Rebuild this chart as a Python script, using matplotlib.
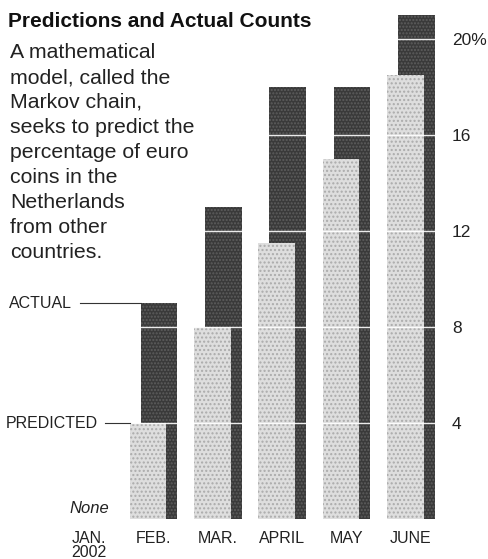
import matplotlib
matplotlib.use("Agg")
import matplotlib.pyplot as plt

plt.rcParams['font.family'] = ['Liberation Sans', 'DejaVu Sans']

months = ["JAN.\n2002", "FEB.", "MAR.", "APRIL", "MAY", "JUNE"]
actual = [None, 9.0, 13.0, 18.0, 18.0, 21.0]
predicted = [None, 4.0, 8.0, 11.5, 15.0, 18.5]
yticks = [4, 8, 12, 16, 20]
ytick_labels = ["4", "8", "12", "16", "20%"]
title = "Predictions and Actual Counts"
body = ["A mathematical", "model, called the", "Markov chain,",
        "seeks to predict the", "percentage of euro", "coins in the",
        "Netherlands", "from other", "countries."]

W, H = 488, 559
fig = plt.figure(figsize=(W / 100, H / 100), dpi=100)
ax = fig.add_axes([57 / W, (H - 519) / H, 386 / W, 509 / H])

xs = list(range(len(months)))
off, bw = 0.085, 0.57
dark_x = [x + off for x, v in zip(xs, actual) if v is not None]
dark_v = [v for v in actual if v is not None]
light_x = [x - off for x, v in zip(xs, predicted) if v is not None]
light_v = [v for v in predicted if v is not None]

ax.bar(dark_x, dark_v, width=bw, color='#3a3a3a', edgecolor='#5e5e5e',
       hatch='.....', linewidth=0, zorder=1)
ax.bar(light_x, light_v, width=bw, color='#dedede', edgecolor='#ababab',
       hatch='....', linewidth=0, zorder=2)

ax.set_xlim(-0.5, 5.5)
ax.set_ylim(0, 509 / 24)
ax.set_axisbelow(False)
ax.yaxis.grid(True, color='white', linewidth=1.0, alpha=0.9, zorder=3)
ax.xaxis.grid(False)
for s in ax.spines.values():
    s.set_visible(False)

ax.yaxis.tick_right()
ax.set_yticks(yticks)
ax.set_yticklabels(ytick_labels)
ax.tick_params(axis='y', length=0, pad=6.5, labelsize=12.5, colors='#222222')
ax.set_xticks(xs)
ax.set_xticklabels(months, linespacing=0.95)
ax.tick_params(axis='x', length=0, pad=8.5, labelsize=11.5, colors='#222222')

ax.text(0, 0.45, "None", ha='center', va='center', style='italic',
        fontsize=12, color='#222222')

# leader labels
dark_left = 1 + off - bw / 2
light_left = 1 - off - bw / 2
ax.plot([-0.142, dark_left], [actual[1], actual[1]], color='#333333',
        lw=0.8, clip_on=False, zorder=4)
ax.text(-0.27, actual[1], "ACTUAL", ha='right', va='center', fontsize=11.5,
        color='#222222', clip_on=False)
ax.plot([0.246, light_left], [predicted[1], predicted[1]], color='#333333',
        lw=0.8, clip_on=False, zorder=4)
ax.text(0.138, predicted[1], "PREDICTED", ha='right', va='center',
        fontsize=11.5, color='#222222', clip_on=False)

fig.text(8 / W, 1 - 27 / H, title, fontsize=15, fontweight='bold',
         va='baseline', ha='left', color='#111111')
for i, line in enumerate(body):
    fig.text(10 / W, 1 - (58 + 25 * i) / H, line, fontsize=15.3,
             va='baseline', ha='left', color='#222222')

fig.savefig("out.png", dpi=100)
